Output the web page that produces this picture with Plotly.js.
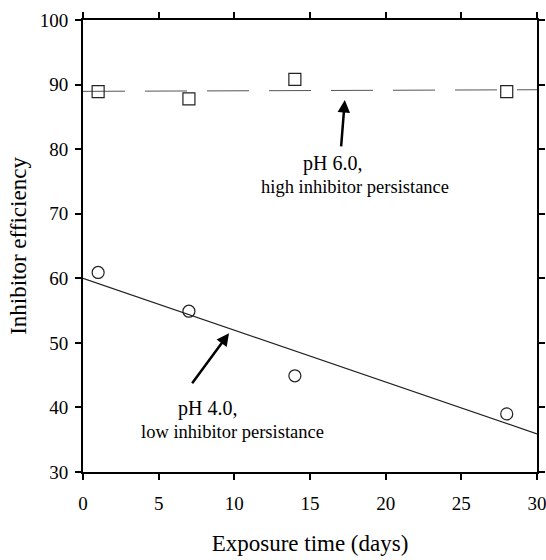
<!DOCTYPE html>
<html>
<head>
<meta charset="utf-8">
<script src="https://cdn.plot.ly/plotly-3.0.1.min.js"></script>
<style>html,body{margin:0;padding:0;background:#fff;}#chart{width:546px;height:560px;}</style>
</head>
<body>
<div id="chart"></div>
<script>
// Data
const days = [1, 7, 14, 28];
const effPH6 = [88.9, 87.8, 90.8, 88.9];
const effPH4 = [60.9, 54.9, 44.9, 39.0];
const fitX = [0, 30];
const fitPH6 = [88.95, 89.2];
const fitPH4 = [60.0, 35.9];
const xTicks = [0, 5, 10, 15, 20, 25, 30];
const yTicks = [30, 40, 50, 60, 70, 80, 90, 100];

const font = 'Liberation Serif, Times New Roman, serif';

const traces = [
  {x: fitX, y: fitPH6, mode: 'lines', line: {color: '#555', width: 1, dash: '42px,20px'}, hoverinfo: 'skip'},
  {x: fitX, y: fitPH4, mode: 'lines', line: {color: '#222', width: 1.2}, hoverinfo: 'skip'},
  {x: days, y: effPH6, mode: 'markers', marker: {symbol: 'square-open', size: 12, color: '#222', line: {width: 1.2}}},
  {x: days, y: effPH4, mode: 'markers', marker: {symbol: 'circle-open', size: 12, color: '#222', line: {width: 1.2}}}
];

const axisCommon = {
  showline: true, linecolor: '#000', linewidth: 2, mirror: 'ticks',
  ticks: 'outside', ticklen: 6, tickwidth: 2, tickcolor: '#000',
  showgrid: false, zeroline: false, ticklabeloverflow: 'allow',
  tickfont: {family: font, size: 19, color: '#000'}
};

const layout = {
  width: 546, height: 560,
  margin: {l: 83, r: 9, t: 20, b: 88},
  paper_bgcolor: '#fff', plot_bgcolor: '#fff',
  showlegend: false,
  xaxis: Object.assign({}, axisCommon, {
    range: [0, 30], tickvals: xTicks, ticklabelstandoff: 7,
    title: {text: 'Exposure time (days)', font: {family: font, size: 23, color: '#000'}, standoff: 22}
  }),
  yaxis: Object.assign({}, axisCommon, {
    range: [30, 100], tickvals: yTicks, ticklabelstandoff: 3,
    title: {text: 'Inhibitor efficiency', font: {family: font, size: 23, color: '#000'}, standoff: 7}
  }),
  annotations: [
    {x: 17.3, y: 87.6, ax: 17.05, ay: 80.2, axref: 'x', ayref: 'y', xref: 'x', yref: 'y',
     showarrow: true, arrowhead: 2, arrowsize: 1, arrowwidth: 2.5, arrowcolor: '#000', text: ''},
    {x: 9.65, y: 51.5, ax: 7.14, ay: 43.5, axref: 'x', ayref: 'y', xref: 'x', yref: 'y',
     showarrow: true, arrowhead: 2, arrowsize: 1, arrowwidth: 2.5, arrowcolor: '#000', text: ''},
    {x: 16.5, y: 77.85, xref: 'x', yref: 'y', showarrow: false, text: 'pH 6.0,', font: {family: font, size: 20, color: '#000'}},
    {x: 18.0, y: 74.1, xref: 'x', yref: 'y', showarrow: false, text: 'high inhibitor persistance', font: {family: font, size: 18.5, color: '#000'}},
    {x: 8.2, y: 39.9, xref: 'x', yref: 'y', showarrow: false, text: 'pH 4.0,', font: {family: font, size: 20, color: '#000'}},
    {x: 9.85, y: 36.2, xref: 'x', yref: 'y', showarrow: false, text: 'low inhibitor persistance', font: {family: font, size: 18.5, color: '#000'}}
  ]
};

Plotly.newPlot('chart', traces, layout, {displayModeBar: false, staticPlot: true});
</script>
</body>
</html>
